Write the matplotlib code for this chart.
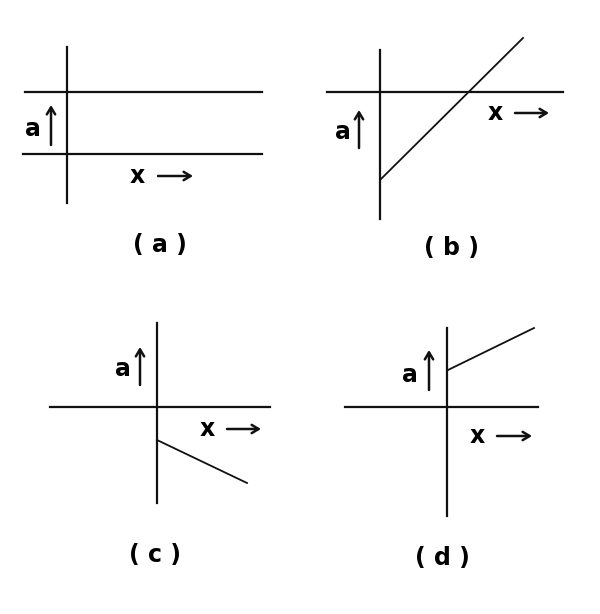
import matplotlib.pyplot as plt

# panel geometry in image pixels (x right, y down)
labels = ['( a )', '( b )', '( c )', '( d )']
label_pos = [(160, 245), (452, 248), (155, 555), (442, 558)]

# vertical "a" axis of each panel: x, y_top, y_bottom
v_axes = [(67, 47, 203), (380, 50, 219), (157, 323, 503), (447, 328, 516)]
# horizontal axes: y, x_left, x_right
h_axes = [(92, 25, 262), (154, 23, 262), (92, 327, 563),
          (407, 50, 270), (407, 345, 538)]
# a(x) graph lines
graph_x = [[381, 523], [157, 247], [448, 534]]
graph_y = [[179, 38], [440, 483], [370, 328]]

# "a" label + up arrow: text x, text y, arrow x, arrow y bottom, arrow y top
a_marks = [(33, 129, 51, 145, 105), (343, 132, 359, 148, 110),
           (123, 369, 140, 385, 347), (410, 375, 429, 390, 350)]
# "x" label + right arrow: text x, text y, arrow x start, arrow x end
x_marks = [(137, 176, 158, 193), (495, 113, 515, 549),
           (207, 429, 227, 261), (477, 436, 497, 532)]

fig = plt.figure(figsize=(6.0, 6.14), dpi=100)
ax = fig.add_axes([0, 0, 1, 1])
ax.set_xlim(0, 600)
ax.set_ylim(614, 0)
ax.axis('off')

lw = 1.6
col = '#111111'
for x, y0, y1 in v_axes:
    ax.plot([x, x], [y0, y1], color=col, lw=lw)
for y, x0, x1 in h_axes:
    ax.plot([x0, x1], [y, y], color=col, lw=lw)
for gx, gy in zip(graph_x, graph_y):
    ax.plot(gx, gy, color=col, lw=1.3)

fs = 17
for tx, ty, axx, ay0, ay1 in a_marks:
    ax.text(tx, ty, 'a', fontsize=fs, fontweight='bold', ha='center', va='center')
    ax.annotate('', xy=(axx, ay1), xytext=(axx, ay0),
                arrowprops=dict(arrowstyle='->,head_length=0.5,head_width=0.3',
                                lw=1.8, color=col, shrinkA=0, shrinkB=0))
for tx, ty, ax0, ax1 in x_marks:
    ax.text(tx, ty, 'x', fontsize=fs, fontweight='bold', ha='center', va='center')
    ax.annotate('', xy=(ax1, ty), xytext=(ax0, ty),
                arrowprops=dict(arrowstyle='->,head_length=0.5,head_width=0.3',
                                lw=1.8, color=col, shrinkA=0, shrinkB=0))

for lab, (lx, ly) in zip(labels, label_pos):
    ax.text(lx, ly, lab, fontsize=fs, fontweight='bold', ha='center', va='center')

fig.savefig('out.png', dpi=100)
